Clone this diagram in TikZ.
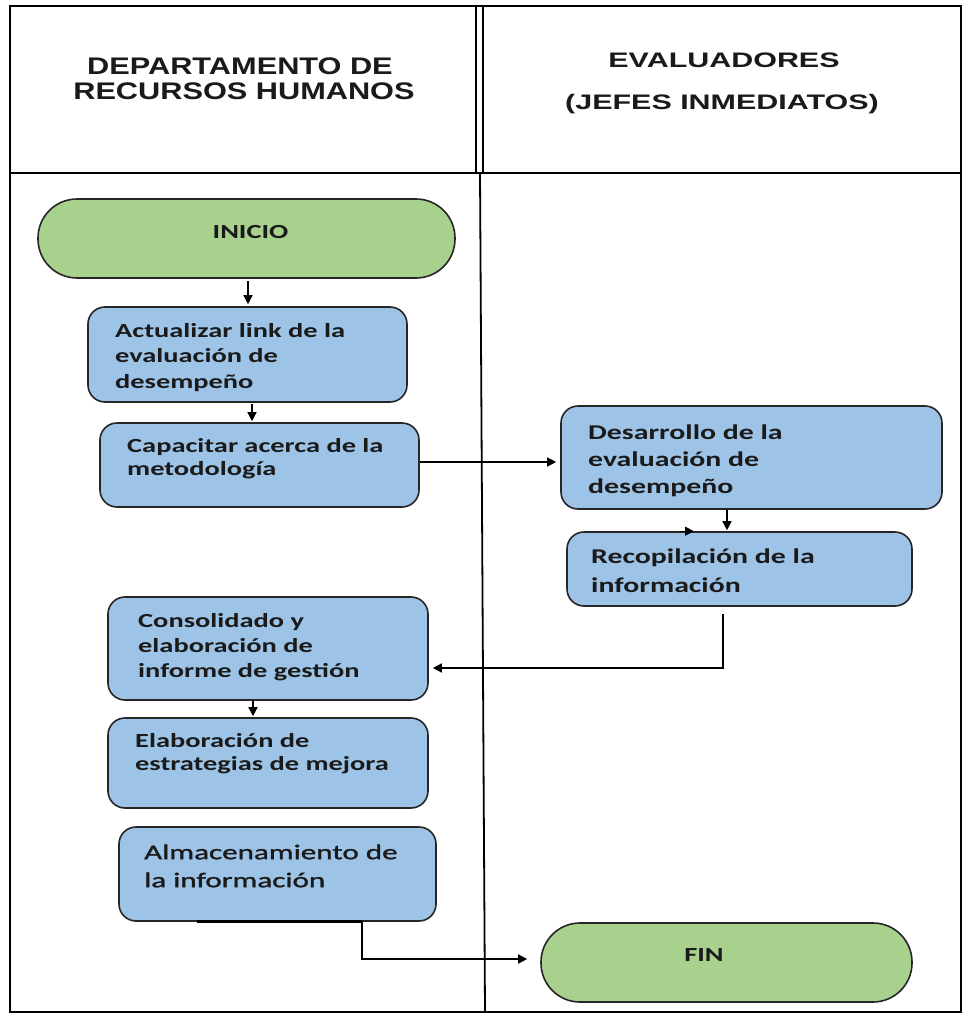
\documentclass[tikz,border=0pt]{standalone}
\usepackage{fontspec}
\usetikzlibrary{arrows.meta}
\newfontfamily\boxfont[FakeStretch=1.42]{Carlito}
\newfontfamily\almfont[FakeStretch=1.48,FakeBold=1.4]{Carlito}
\newfontfamily\hdrL[FakeStretch=1.28]{Liberation Sans}
\newfontfamily\hdrR[FakeStretch=1.45]{Liberation Sans}
\definecolor{termgreen}{HTML}{A9D18E}
\definecolor{procblue}{HTML}{9DC3E6}
\definecolor{edge}{HTML}{262626}
\definecolor{ink}{HTML}{1A1A1A}
\tikzset{
  proc/.style={draw=edge, line width=1.6pt, fill=procblue, rounded corners=17pt, inner sep=0pt},
  term/.style={draw=edge, line width=1.6pt, fill=termgreen, rounded corners=39pt, inner sep=0pt},
  lbl/.style={anchor=north west, inner sep=0pt, align=left, text=ink},
  hdr/.style={anchor=base, inner sep=0pt, text=ink},
  arr/.style={line width=1.4pt, -{Triangle[length=9pt,width=9pt]}},
  lane/.style={line width=1.8pt}
}
\begin{document}
\begin{tikzpicture}[x=1pt,y=-1pt]
\useasboundingbox (0,0) rectangle (965,1014);
\fill[white] (0,0) rectangle (965,1014);
% frame
\draw[lane] (10,6) rectangle (961,1012);
\draw[lane] (10,173) -- (961,173);
\draw[line width=1.5pt] (476,6) -- (476,173);
\draw[line width=1.5pt] (483,6) -- (483,173);
\draw[lane] (480,173) -- (485,1012);
% headers
\node[hdr, font={\hdrL\bfseries\fontsize{24}{28}\selectfont}] (h1a) at (240,75) {DEPARTAMENTO DE};
\node[hdr, font={\hdrL\bfseries\fontsize{24}{28}\selectfont}] (h1b) at (244,100) {RECURSOS HUMANOS};
\node[hdr, font={\hdrR\bfseries\fontsize{21}{25}\selectfont}] (h2a) at (724,68) {EVALUADORES};
\node[hdr, font={\hdrR\bfseries\fontsize{21}{25}\selectfont}] (h2b) at (722,110) {(JEFES INMEDIATOS)};
% shapes
\node[term, minimum width=417pt, minimum height=79pt] (inicio) at (246.5,238.5) {};
\node[proc, minimum width=319pt, minimum height=95pt] (act) at (247.5,354.5) {};
\node[proc, minimum width=319pt, minimum height=84pt] (cap) at (259.5,465) {};
\node[proc, minimum width=381pt, minimum height=103pt] (des) at (751.5,457.5) {};
\node[proc, minimum width=345pt, minimum height=74pt] (rec) at (739.5,569) {};
\node[proc, minimum width=320pt, minimum height=103pt] (con) at (268,648.5) {};
\node[proc, minimum width=320pt, minimum height=90pt] (ela) at (268,763) {};
\node[proc, minimum width=317pt, minimum height=94pt] (alm) at (277.5,874) {};
\node[term, minimum width=371pt, minimum height=79pt] (fin) at (726.5,962.5) {};
% texts
\node[hdr, font={\boxfont\bfseries\fontsize{20}{24}\selectfont}] (tinicio) at (250.5,238) {INICIO};
\node[hdr, font={\boxfont\bfseries\fontsize{20}{24}\selectfont}] (tfin) at (704,961) {FIN};
\node[lbl, font={\boxfont\bfseries\fontsize{20}{25.5}\selectfont}] (tact) at (115,319)
  {\rule{0pt}{18pt}Actualizar link de la\\evaluación de\\desempeño};
\node[lbl, font={\boxfont\bfseries\fontsize{20}{23}\selectfont}] (tcap) at (127,434)
  {\rule{0pt}{18pt}Capacitar acerca de la\\metodología};
\node[lbl, font={\boxfont\bfseries\fontsize{21}{27}\selectfont}] (tdes) at (588,421)
  {\rule{0pt}{18pt}Desarrollo de la\\evaluación de\\desempeño};
\node[lbl, font={\boxfont\bfseries\fontsize{21}{29}\selectfont}] (trec) at (591,545)
  {\rule{0pt}{18pt}Recopilación de la\\información};
\node[lbl, font={\boxfont\bfseries\fontsize{20}{25}\selectfont}] (tcon) at (138,609)
  {\rule{0pt}{18pt}Consolidado y\\elaboración de\\informe de gestión};
\node[lbl, font={\boxfont\bfseries\fontsize{20}{23}\selectfont}] (tela) at (135,729)
  {\rule{0pt}{18pt}Elaboración de\\estrategias de mejora};
\node[lbl, font={\almfont\fontsize{21}{28}\selectfont}] (talm) at (144,841)
  {\rule{0pt}{18pt}Almacenamiento de\\la información};
% connectors
\draw[arr, shorten <=2pt, shorten >=2pt] ([xshift=1.5pt]inicio.south) -- ([xshift=1.5pt]inicio.south |- act.north);
\draw[arr, shorten <=1pt, shorten >=1pt] ([xshift=4.5pt]act.south) -- ([xshift=4.5pt]act.south |- cap.north);
\draw[arr, shorten >=4pt] ([yshift=3pt]cap.east) -- ([yshift=3pt]cap.east -| des.west);
\draw[arr, shorten >=1pt] ([xshift=-24.5pt]des.south) -- ([xshift=-24.5pt]des.south |- rec.north);
\draw[line width=1.2pt, -{Triangle[length=9pt,width=9pt]}] ([xshift=-60pt]rec.north) -- ([xshift=-45.5pt]rec.north);
\draw[arr, shorten <=7pt, shorten >=4pt] ([xshift=-16.5pt]rec.south) |- ([yshift=-19.5pt]con.east);
\draw[arr, shorten >=1pt] ([xshift=-15pt]con.south) -- ([xshift=-15pt]con.south |- ela.north);
\draw[line width=3pt] ([xshift=-80.5pt]alm.south) -- ([xshift=84.5pt]alm.south);
\draw[arr, shorten >=13pt] ([xshift=84.5pt]alm.south) |- ([yshift=3.5pt]fin.west);
\end{tikzpicture}
\end{document}
